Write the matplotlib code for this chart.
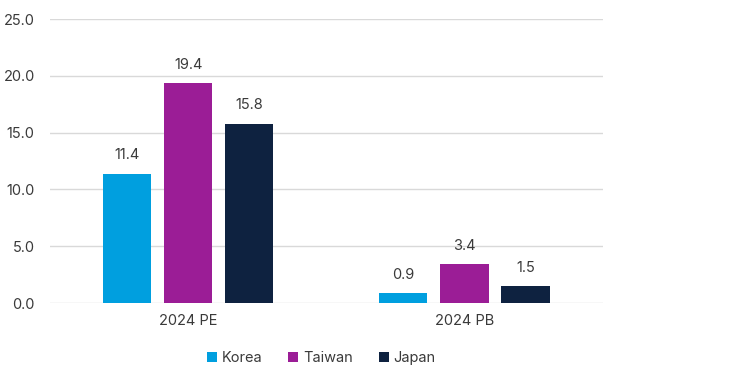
import numpy as np
import matplotlib.pyplot as plt

# ——— Data ———
categories = ["2024 PE", "2024 PB"]
series_names = ["Korea", "Taiwan", "Japan"]
korea = [11.4, 0.9]
taiwan = [19.4, 3.4]
japan = [15.8, 1.5]
colors = ["#009FDF", "#9B1D96", "#0E2240"]

plt.rcParams['font.family'] = ['Inter', 'DejaVu Sans']
text_color = "#3A3A3A"

fig = plt.figure(figsize=(7.3, 3.88), dpi=100)
ax = fig.add_axes([0.0685, 0.219, 0.757, 0.732])

x = np.arange(len(categories))
width = 0.174
offset = 0.221
for i, (vals, name, c) in enumerate(zip([korea, taiwan, japan], series_names, colors)):
    bars = ax.bar(x + (i - 1) * offset, vals, width, color=c, label=name, zorder=3)
    for b, v in zip(bars, vals):
        ax.annotate(f"{v:.1f}", (b.get_x() + b.get_width() / 2, v),
                    xytext=(0, 8), textcoords="offset points",
                    ha="center", va="bottom", fontsize=10.5, color=text_color)

ax.set_xlim(-0.5, 1.5)
ax.set_ylim(0, 25)
ax.set_yticks(np.arange(0, 25.1, 5))
ax.set_yticklabels([f"{t:.1f}" for t in np.arange(0, 25.1, 5)])
ax.set_xticks(x)
ax.set_xticklabels(categories)
ax.grid(axis="y", color="#D9D9D9", linewidth=1, zorder=0)
for s in ax.spines.values():
    s.set_visible(False)
ax.tick_params(axis="both", length=0, labelsize=10.5, colors=text_color)
ax.tick_params(axis="x", pad=8)
ax.tick_params(axis="y", pad=11)

fig.legend(loc="center", bbox_to_anchor=(0.44, 0.077), ncol=3, frameon=False,
           fontsize=10.5, handlelength=0.7, handleheight=0.7, handletextpad=0.3,
           columnspacing=1.8, labelcolor=text_color)

fig.savefig("out.png", dpi=100)
